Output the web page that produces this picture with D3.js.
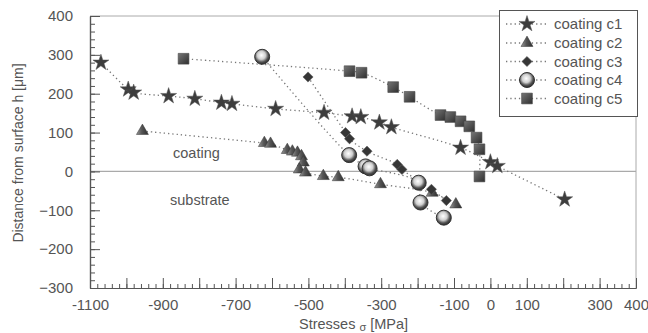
<!DOCTYPE html>
<html>
<head>
<meta charset="utf-8">
<script src="https://cdn.jsdelivr.net/npm/d3@7"></script>
<style>
  body { margin: 0; background: #fff; }
  text { font-family: "Liberation Sans", Arial, sans-serif; fill: #555; }
</style>
</head>
<body>
<div id="chart"></div>
<script>
  // data: [stress MPa, depth um]
  var seriesNames = ["coating c1", "coating c2", "coating c3", "coating c4", "coating c5"];
  var c1 = [[-1070, 280], [-995, 211], [-980, 203], [-884, 194], [-812, 187], [-739, 177], [-710, 174],
            [-590, 161], [-457, 151], [-380, 142], [-356, 140], [-305, 126], [-272, 114], [-82, 61],
            [0, 24], [19, 14], [204, -72]];
  var c2 = [[-956, 104], [-621, 73], [-604, 71], [-558, 55], [-544, 51], [-530, 48], [-519, 39],
            [-514, 23], [-525, 5], [-508, -3], [-459, -12], [-418, -15], [-302, -33], [-160, -55], [-95, -85]];
  var c3 = [[-501, 243], [-398, 100], [-387, 84], [-339, 52], [-256, 18], [-243, 5], [-162, -46], [-121, -75]];
  var c4 = [[-627, 295], [-388, 42], [-343, 13], [-332, 8], [-197, -29], [-192, -80], [-128, -119]];
  var c5 = [[-843, 290], [-387, 258], [-354, 254], [-267, 217], [-222, 192], [-137, 145], [-110, 140],
            [-82, 129], [-58, 116], [-38, 87], [-30, 57], [-30, -13]];
  var seriesData = [c1, c2, c3, c4, c5];
  var markerTypes = ["star", "triangle", "diamond", "sphere", "square"];

  var xTickLabels = [-1100, -900, -700, -500, -300, -100, 0, 100, 300, 400];
  var xMajor = d3.range(-1100, 401, 100);
  var xMinor = d3.range(-1100, 401, 20);
  var yMajor = d3.range(-300, 401, 100);
  var yMinor = d3.range(-300, 401, 20);

  var width = 648, height = 333;
  var svg = d3.select("#chart").append("svg")
    .attr("width", width)
    .attr("height", height);

  var x = d3.scaleLinear().domain([-1100, 400]).range([90, 636]);
  var y = d3.scaleLinear().domain([-300, 400]).range([288, 16]);

  // gradients for the 3d looking markers
  var defs = svg.append("defs");
  var sph = defs.append("radialGradient").attr("id", "sph")
    .attr("cx", "45%").attr("cy", "40%").attr("r", "60%");
  sph.append("stop").attr("offset", "0%").attr("stop-color", "#ffffff");
  sph.append("stop").attr("offset", "45%").attr("stop-color", "#d0d0d0");
  sph.append("stop").attr("offset", "75%").attr("stop-color", "#555");
  sph.append("stop").attr("offset", "100%").attr("stop-color", "#2a2a2a");
  var sq = defs.append("linearGradient").attr("id", "sq")
    .attr("x1", "0").attr("y1", "0").attr("x2", "1").attr("y2", "1");
  sq.append("stop").attr("offset", "0%").attr("stop-color", "#777");
  sq.append("stop").attr("offset", "100%").attr("stop-color", "#2e2e2e");
  var tri = defs.append("linearGradient").attr("id", "tri")
    .attr("x1", "0").attr("y1", "0").attr("x2", "1").attr("y2", "0");
  tri.append("stop").attr("offset", "0%").attr("stop-color", "#999");
  tri.append("stop").attr("offset", "45%").attr("stop-color", "#555");
  tri.append("stop").attr("offset", "100%").attr("stop-color", "#2e2e2e");

  //框
  svg.append("path")
    .attr("d", "M" + x(-1100) + "," + y(400) + "H" + x(400) + "V" + y(-300))
    .attr("fill", "none").attr("stroke", "#aaa").attr("stroke-width", 1);
  svg.append("line")
    .attr("x1", x(-1100)).attr("x2", x(400)).attr("y1", y(0)).attr("y2", y(0))
    .attr("stroke", "#aaa").attr("stroke-width", 1.2);

  //坐标轴
  var gxMinor = svg.append("g").attr("transform", "translate(0," + y(-300) + ")")
    .call(d3.axisBottom(x).tickValues(xMinor).tickSizeInner(-4).tickSizeOuter(0).tickFormat(""));
  var gx = svg.append("g").attr("transform", "translate(0," + y(-300) + ")")
    .call(d3.axisBottom(x).tickValues(xMajor).tickSizeInner(-10).tickSizeOuter(0).tickPadding(11)
      .tickFormat(function(d) { return xTickLabels.indexOf(d) >= 0 ? d : ""; }));
  var gyMinor = svg.append("g").attr("transform", "translate(" + x(-1100) + ",0)")
    .call(d3.axisLeft(y).tickValues(yMinor).tickSizeInner(-5).tickSizeOuter(0).tickFormat(""));
  var gy = svg.append("g").attr("transform", "translate(" + x(-1100) + ",0)")
    .call(d3.axisLeft(y).tickValues(yMajor).tickSizeInner(-10).tickSizeOuter(0).tickPadding(17));
  [gxMinor, gx, gyMinor, gy].forEach(function(g) {
    g.selectAll("path.domain").attr("stroke", "#555").attr("stroke-width", 1.2);
    g.selectAll(".tick line").attr("stroke", "#555");
    g.selectAll(".tick text").style("font-size", "15px").style("fill", "#555")
      .style("font-family", "'Liberation Sans', Arial, sans-serif");
  });

  //标题
  svg.append("text")
    .attr("transform", "translate(23,153) rotate(-90)")
    .attr("text-anchor", "middle")
    .style("font-size", "14px")
    .text("Distance from surface  h  [\u03bcm]");
  var xt = svg.append("text")
    .attr("x", 299).attr("y", 329)
    .style("font-size", "14.5px");
  xt.append("tspan").text("Stresses  ");
  xt.append("tspan").attr("dy", 2).style("font-size", "11px").text("\u03c3");
  xt.append("tspan").attr("dy", -2).text(" [MPa]");

  svg.append("text").attr("x", 173).attr("y", 158).style("font-size", "14.5px").text("coating");
  svg.append("text").attr("x", 170).attr("y", 205).style("font-size", "14.5px").text("substrate");

  //线
  var line = d3.line()
    .x(function(d) { return x(d[0]); })
    .y(function(d) { return y(d[1]); })
    .curve(d3.curveCatmullRom.alpha(0.5));
  svg.append("g").selectAll("path")
    .data(seriesData)
    .enter()
    .append("path")
    .attr("d", line)
    .attr("fill", "none")
    .attr("stroke", "#777")
    .attr("stroke-width", 1.3)
    .attr("stroke-dasharray", "1.3,3");

  //点
  function drawMarker(g, type) {
    if (type == "star") {
      g.append("path").attr("d", d3.symbol(d3.symbolStar, 80)())
        .attr("fill", "#3d3d3d").attr("stroke", "#555").attr("stroke-width", 0.5);
    } else if (type == "triangle") {
      g.append("path").attr("d", d3.symbol(d3.symbolTriangle, 62)())
        .attr("fill", "url(#tri)").attr("stroke", "#333").attr("stroke-width", 0.5);
    } else if (type == "diamond") {
      g.append("path").attr("d", d3.symbol(d3.symbolSquare, 52)())
        .attr("transform", "rotate(45)")
        .attr("fill", "#363636").attr("stroke", "#555").attr("stroke-width", 0.5);
    } else if (type == "sphere") {
      g.append("circle").attr("r", 7.5)
        .attr("fill", "url(#sph)").attr("stroke", "#333").attr("stroke-width", 1);
    } else {
      g.append("path").attr("d", d3.symbol(d3.symbolSquare, 115)())
        .attr("fill", "url(#sq)").attr("stroke", "#444").attr("stroke-width", 0.6);
    }
  }
  seriesData.forEach(function(data, i) {
    svg.append("g").selectAll("g")
      .data(data)
      .enter()
      .append("g")
      .attr("transform", function(d) { return "translate(" + x(d[0]) + "," + y(d[1]) + ")"; })
      .each(function() { drawMarker(d3.select(this), markerTypes[i]); });
  });

  //图例
  var legend = svg.append("g");
  legend.append("rect")
    .attr("x", 499.5).attr("y", 10.5).attr("width", 138).attr("height", 106)
    .attr("fill", "#fff").attr("stroke", "#555").attr("stroke-width", 1);
  var legendY = [24, 43, 61.5, 80, 98.5];
  seriesNames.forEach(function(name, i) {
    var item = legend.append("g").attr("transform", "translate(527," + legendY[i] + ")");
    item.append("line").attr("x1", -21).attr("x2", 20)
      .attr("stroke", "#777").attr("stroke-width", 1.3).attr("stroke-dasharray", "1.3,3");
    drawMarker(item, markerTypes[i]);
    legend.append("text")
      .attr("x", 554).attr("y", legendY[i] + 5)
      .style("font-size", "15px")
      .text(name);
  });
</script>
</body>
</html>
